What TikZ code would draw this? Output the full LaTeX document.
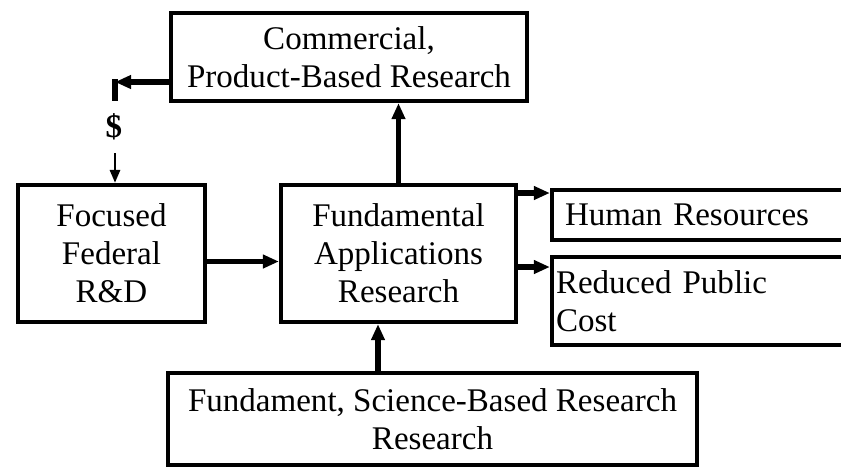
\documentclass[tikz,border=0pt]{standalone}
\usepackage{fontspec}
\setmainfont{Liberation Serif}
\usetikzlibrary{arrows.meta,positioning,calc}

\begin{document}
\begin{tikzpicture}[
  box/.style={rectangle,draw,line width=2.4pt,inner sep=0pt,align=center,font=\fontsize{18.8}{21.6}\selectfont},
  sidebox/.style={rectangle,draw,line width=2.4pt,inner ysep=0pt,align=left,font=\fontsize{18.8}{21.6}\selectfont},
  arr/.style={line width=3pt,-{Triangle[length=0.32cm,width=0.26cm]}},
  thinarr/.style={line width=1.6pt,-{Triangle[length=0.26cm,width=0.2cm]}}
]

  \useasboundingbox (0,0) rectangle (16.82,-9.34);
  \clip (0,0) rectangle (16.82,-9.34);

  % Research boxes
  \node[box,minimum width=7.12cm,minimum height=1.76cm] (comm) at (6.98,-1.14) {
    Commercial,\\
    Product-Based Research
  };

  \node[box,minimum width=3.74cm,minimum height=2.74cm] (focus) at (2.23,-5.07) {
    Focused\\
    Federal\\
    R\&D
  };

  \node[box,minimum width=4.70cm,minimum height=2.74cm] (fund) at (7.97,-5.07) {
    Fundamental\\
    Applications\\
    Research
  };

  \node[box,minimum width=10.58cm,minimum height=1.84cm] (sci) at (8.65,-8.38) {
    Fundament, Science-Based Research\\
    Research
  };

  % Outcome boxes (run off the right edge)
  \node[sidebox,inner xsep=0.26cm,text width=6.04cm,minimum height=1.0cm] (hr) at (14.32,-4.30) {
    Human Resources
  };

  \node[sidebox,inner xsep=0.08cm,text width=6.40cm,minimum height=1.76cm] (cost) at (14.32,-6.02) {
    Reduced Public\\
    Cost
  };

  % Funding loop back to federal R&D
  \coordinate (bend) at (2.30,-1.64);
  \draw[arr] (comm.west |- bend) -- (bend);
  \node[inner sep=0pt,minimum height=1.04cm,font=\bfseries\fontsize{18.8}{21.6}\selectfont] (dollar) at (2.28,-2.54) {\$};
  \draw[line width=3pt] ([yshift=1.5pt]bend) -- (bend |- dollar.north);
  \draw[thinarr] (bend |- dollar.south) -- (bend |- focus.north);

  % Flow between boxes
  \draw[arr] ($(focus.east)+(0,-0.16)$) -- ($(fund.west)+(0,-0.16)$);
  \draw[arr] (fund.north) -- (fund.north |- comm.south);

  \coordinate (sciout) at ($(sci.north)+(-1.09,0)$);
  \draw[arr] (sciout) -- (sciout |- fund.south);

  \coordinate (hrin) at ($(hr.west)+(0,0.44)$);
  \coordinate (costin) at ($(cost.west)+(0,0.68)$);
  \draw[arr] (fund.east |- hrin) -- (hrin);
  \draw[arr] (fund.east |- costin) -- (costin);

\end{tikzpicture}
\end{document}
